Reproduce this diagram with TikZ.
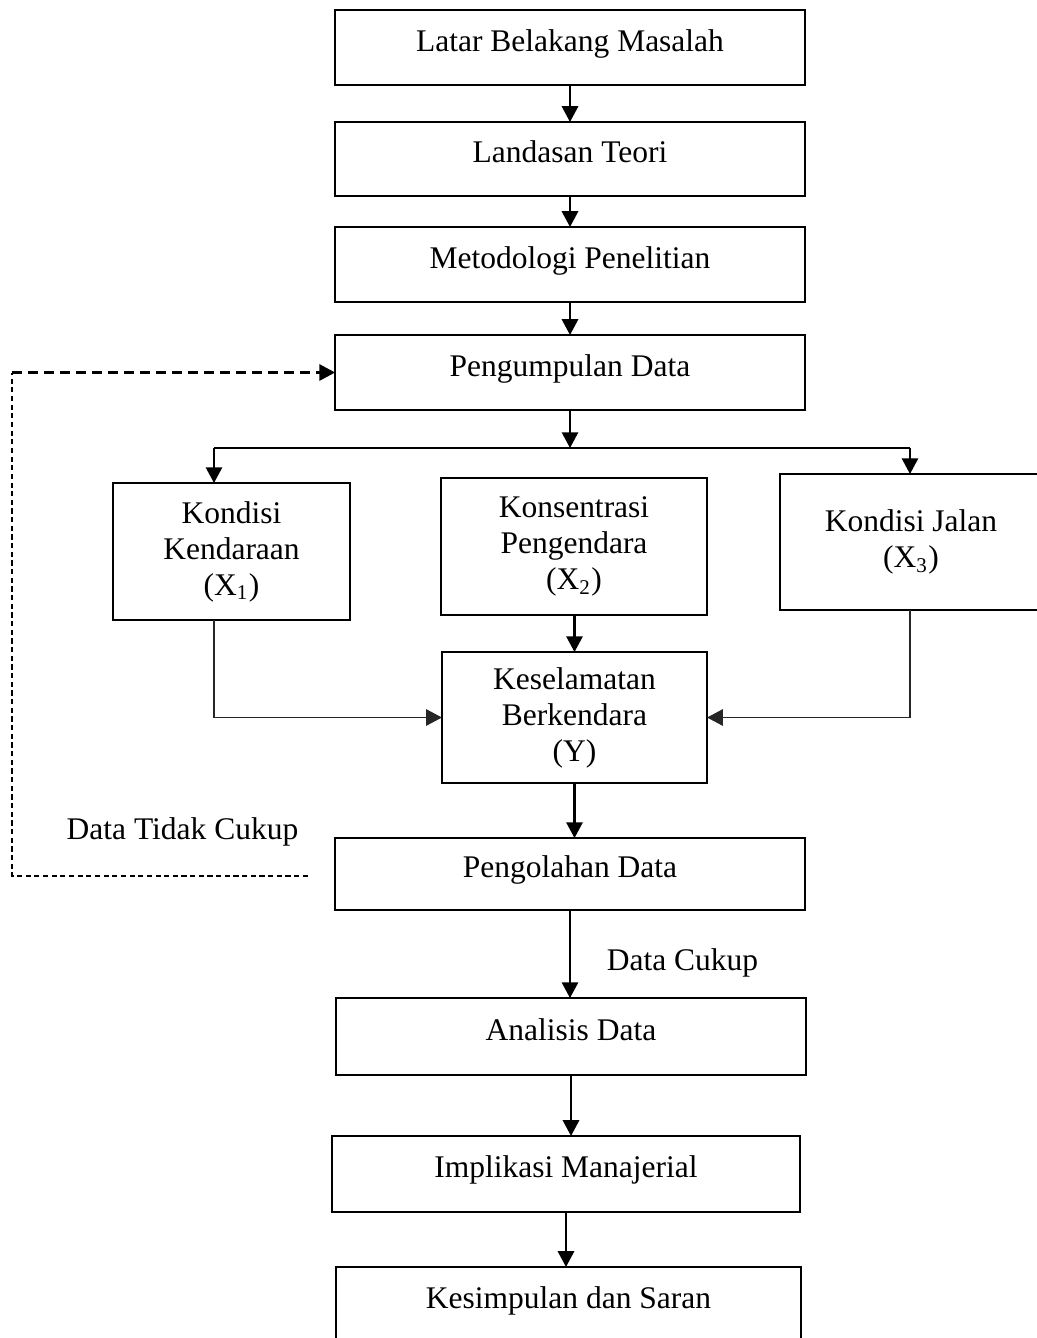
\documentclass[tikz,border=0pt]{standalone}
\usepackage{fontspec}
\setmainfont{Liberation Serif}
\usetikzlibrary{arrows.meta, positioning}
\tikzset {
  stage/.style = {draw, line width=0.8pt, rectangle, minimum width=179pt, minimum height=28.6pt, text height=8.4pt, text depth=5.4pt, inner sep=0pt},
  factor/.style = {draw, line width=0.8pt, rectangle, align=center, inner sep=0pt},
  flow/.style = {-{Triangle[length=6pt, width=6.2pt]}, line width=0.8pt, color=black},
  link/.style = {-{Triangle[length=6pt, width=6.2pt]}, line width=0.65pt, color=black!85},
  feedback/.style = {-{Triangle[length=6pt, width=6.2pt]}, line width=0.8pt, dash pattern=on 3.8pt off 2.3pt},
  feedthin/.style = {line width=0.4pt, dash pattern=on 2pt off 1.3pt},
  note/.style = {inner sep=0pt}
}

\begin{document}
\begin{tikzpicture}[x=0.381pt, y=-0.381pt, outer sep=0pt, font=\fontsize{12}{13.7}\selectfont]

    \useasboundingbox (0,0) rectangle (1036,1338);

    % main column
    \node[stage] (lbm) at (570,47.5) {Latar Belakang Masalah};
    \node[stage, minimum height=28.2pt] (lt) at (570,159) {Landasan Teori};
    \node[stage] (mp) at (570,264.5) {Metodologi Penelitian};
    \node[stage] (pd) at (570,372.5) {Pengumpulan Data};

    % variables
    \node[factor, minimum width=90.3pt, minimum height=52.2pt] (kk) at (231.5,551.5) {Kondisi\\Kendaraan\\(X\textsubscript{1})};
    \node[factor, minimum width=101.3pt, minimum height=52.2pt] (kp) at (574,546.5) {Konsentrasi\\Pengendara\\(X\textsubscript{2})};
    \node[factor, minimum width=99.8pt, minimum height=51.8pt] (kj) at (911,542) {Kondisi Jalan\\(X\textsubscript{3})};
    \node[factor, minimum width=101pt, minimum height=49.9pt] (kb) at (574.5,717.5) {Keselamatan\\Berkendara\\(Y)};

    \node[stage, minimum height=27.4pt] (pgd) at (570,874) {Pengolahan Data};
    \node[stage, minimum height=29.3pt] (ad) at (571,1036.5) {Analisis Data};
    \node[stage, minimum width=178.3pt, minimum height=29pt] (im) at (566,1174) {Implikasi Manajerial};
    \node[stage, minimum width=177.2pt, minimum height=29pt] (ks) at (568.5,1305) {Kesimpulan dan Saran};

    \node[note] (dtc) at (182.5,832) {Data Tidak Cukup};
    \node[note] (dc) at (682.5,963) {Data Cukup};

    \coordinate (brl) at (214,448);
    \coordinate (brr) at (910,448);
    \coordinate (fbs) at (308,876);
    \coordinate (fbx) at (12,876);

    \draw[flow] (lbm.south) -- (lt.north);
    \draw[flow] (lt.south) -- (mp.north);
    \draw[flow] (mp.south) -- (pd.north);
    \draw[flow] (pd.south) -- (pd.south |- brl);
    \draw[line width=0.8pt] (brl) -- (brr);
    \draw[flow] (brl) -- (brl |- kk.north);
    \draw[flow] (brr) -- (brr |- kj.north);
    \draw[flow] (kp.south -| kb.north) -- (kb.north);
    \draw[link] (brl |- kk.south) |- (kb.west);
    \draw[link] (brr |- kj.south) |- (kb.east);
    \draw[flow] (kb.south) -- (kb.south |- pgd.north);
    \draw[flow] (pgd.south) -- (pgd.south |- ad.north);
    \draw[flow] (ad.south) -- (ad.south |- im.north);
    \draw[flow] (im.south) -- (im.south |- ks.north);

    % feedback loop
    \draw[feedthin] (fbs) -- (fbx) -- (fbx |- pd.west);
    \draw[feedback] (fbx |- pd.west) -- (pd.west);

\end{tikzpicture}
\end{document}
